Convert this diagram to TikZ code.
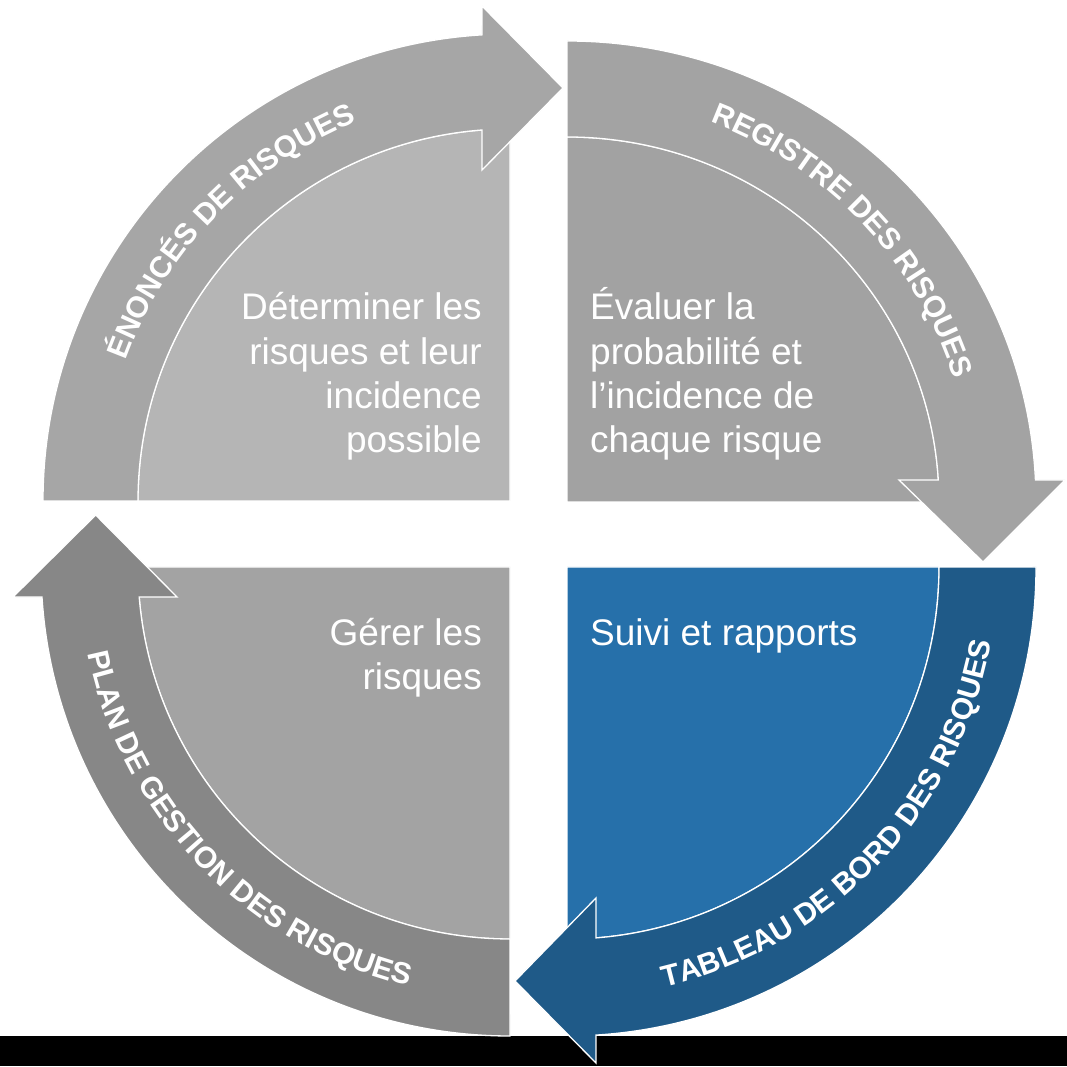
\documentclass[tikz,border=0pt]{standalone}
\usepackage{fontspec}
\setmainfont{Liberation Sans}
\usetikzlibrary{decorations.text}
\definecolor{tlband}{HTML}{A6A6A6}
\definecolor{tlbox}{HTML}{B5B5B5}
\definecolor{trband}{HTML}{A3A3A3}
\definecolor{trbox}{HTML}{A2A2A2}
\definecolor{blband}{HTML}{878787}
\definecolor{blbox}{HTML}{A3A3A3}
\definecolor{brband}{HTML}{1F5A88}
\definecolor{brbox}{HTML}{2670AA}
\newcommand\lblfont{\bfseries\fontsize{30}{30}\selectfont}
\begin{document}
\begin{tikzpicture}[x=1pt,y=1pt,
  quad/.style={draw=white, line width=1.3pt, line join=miter},
  boxtext/.style={text=white, font=\fontsize{37}{44.3}\selectfont, inner sep=0pt},
  lbl/.style={decorate, decoration={text along path, text align=center, text color=white, text={|\lblfont|#1}}}]
\useasboundingbox (0,0) rectangle (1067,1066);
\fill[white] (0,0) rectangle (1067,1066);
\fill[black] (0,0) rectangle (1067,30);
\coordinate (TLc) at (510,565);
\coordinate (TRc) at (567,564);
\coordinate (BRc) at (567,499);
\coordinate (BLc) at (510,499);
% top-left
\filldraw[quad, fill=tlbox] (TLc) -- (138,565) arc[start angle=180, end angle=90, radius=372] -- cycle;
\filldraw[quad, fill=tlband] (43,565) arc[start angle=180, end angle=93.44, radius=467] -- (482,1060) -- (563,978) -- (482,896) -- (482,936) arc[start angle=94.32, end angle=180, radius=372] -- cycle;
% top-right
\filldraw[quad, fill=trbox] (TRc) -- (939,564) arc[start angle=0, end angle=90, x radius=372, y radius=365] -- cycle;
\filldraw[quad, fill=trband] (567,1025) arc[start angle=90, end angle=2.735, x radius=469, y radius=461] -- (1065,586) -- (983,504) -- (899,586) -- (938.3,586) arc[start angle=3.455, end angle=90, x radius=372, y radius=365] -- cycle;
% bottom-right
\filldraw[quad, fill=brbox] (BRc) -- (939,499) arc[start angle=0, end angle=-90, radius=372] -- cycle;
\filldraw[quad, fill=brband] (1036,499) arc[start angle=0, end angle=-86.46, radius=469] -- (596,3) -- (515,85) -- (596,168) -- (596,128.1) arc[start angle=-85.53, end angle=0, radius=372] -- cycle;
% bottom-left
\filldraw[quad, fill=blbox] (BLc) -- (510,127) arc[start angle=270, end angle=180, radius=372] -- cycle;
\filldraw[quad, fill=blband] (510,30) arc[start angle=270, end angle=183.67, radius=469] -- (13,469) -- (95.7,551) -- (177,469) -- (139.2,469) arc[start angle=184.63, end angle=270, radius=372] -- cycle;
% curved labels
\path[lbl={ÉNONCÉS DE RISQUES}] (TLc) ++(196:409) arc[start angle=196, end angle=76, radius=409];
\path[lbl={REGISTRE DES RISQUES}] (TRc) ++(103.5:406) arc[start angle=103.5, end angle=-16.5, radius=406];
\path[lbl={TABLEAU DE BORD DES RISQUES}] (BRc) ++(-103.5:431) arc[start angle=-103.5, end angle=16.5, radius=431];
\path[lbl={PLAN DE GESTION DES RISQUES}] (BLc) ++(164:431) arc[start angle=164, end angle=284, radius=431];
% box texts (anchor = baseline of the last line)
\node[boxtext, align=right, anchor=base east] (t1) at (482,613.1) {Déterminer les\\risques et leur\\incidence\\possible};
\node[boxtext, align=left, anchor=base west] (t2) at (590,613.1) {Évaluer la\\probabilité et\\l’incidence de\\chaque risque};
\node[boxtext, align=right, anchor=base east] (t3) at (482,376.2) {Gérer les\\risques};
\node[boxtext, anchor=base west] (t4) at (590,420.5) {Suivi et rapports};
\end{tikzpicture}
\end{document}
